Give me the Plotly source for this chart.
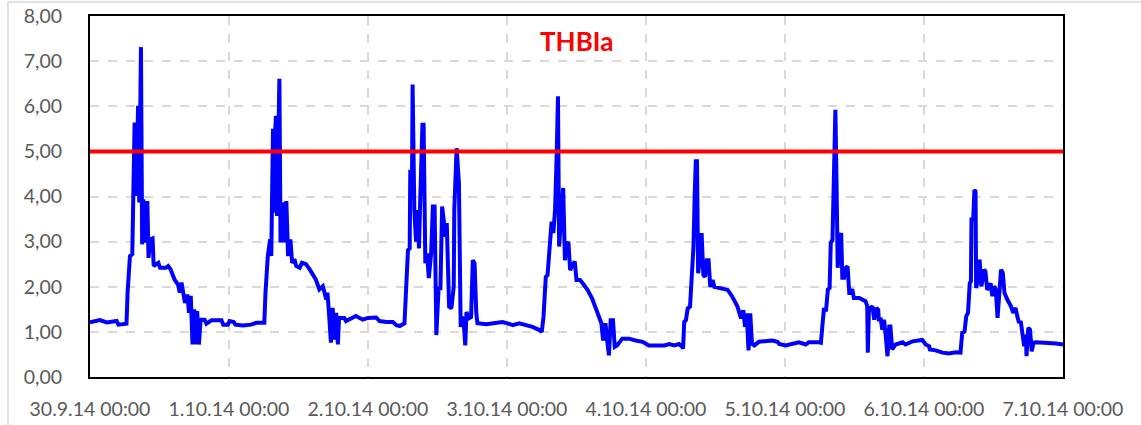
import pandas as pd
import plotly.graph_objects as go

# hours since 30.9.14 00:00
hours = [
    0, 1.7, 2.9, 4.6, 4.9, 6.3, 6.5, 6.9, 7.3, 7.5, 7.7, 8.0, 8.3, 8.5, 8.8, 9.0, 9.2, 9.5, 9.9, 10.1,
    10.4, 10.8, 11.0, 11.8, 12.1, 13.1, 13.5, 13.9, 14.6, 15.2, 15.5, 15.8, 16.2, 16.4, 16.8, 17.1, 17.4,
    17.7, 18.0, 18.3, 18.5, 18.8, 19.1, 19.8, 20.1, 21.0, 22.7, 23.0, 23.8, 24.1, 24.8, 25.1, 26.4, 27.8,
    28.7, 29.3, 29.6, 30.1, 30.3, 30.7, 31.1, 31.3, 31.6, 31.7, 32.0, 32.1, 32.3, 32.7, 32.9, 33.3, 33.6,
    33.9, 34.2, 34.6, 34.9, 35.3, 35.6, 36.2, 36.6, 37.3, 37.9, 38.5, 39.0, 39.6, 40.2, 40.8, 41.0, 41.3,
    41.6, 41.9, 42.2, 42.5, 42.8, 43.0, 43.9, 44.2, 45.9, 47.1, 48.0, 49.4, 50.0, 51.2, 52.3, 52.9, 53.5,
    54.3, 54.5, 54.9, 55.2, 55.3, 55.6, 55.7, 56.0, 56.3, 56.6, 56.8, 57.0, 57.4, 57.6, 57.9, 58.2, 58.5,
    58.9, 59.2, 59.5, 59.8, 60.2, 60.5, 60.8, 61.1, 61.4, 61.6, 62.0, 62.4, 62.8, 62.9, 63.3, 63.7, 64.0,
    64.2, 64.5, 64.8, 65.0, 65.4, 65.8, 66.1, 66.4, 66.7, 66.9, 68.4, 70.1, 71.2, 72.1, 73.0, 74.1, 75.3,
    76.4, 77.6, 78.0, 78.3, 78.7, 79.0, 79.3, 79.7, 80.0, 80.3, 80.6, 80.8, 81.0, 81.3, 81.7, 82.0, 82.3,
    82.6, 82.9, 83.3, 83.7, 84.0, 84.6, 85.1, 85.9, 86.7, 87.4, 87.9, 88.3, 88.6, 89.0, 89.3, 89.6, 89.9,
    90.3, 90.6, 91.0, 91.9, 93.1, 94.2, 95.4, 96.5, 97.1, 98.3, 99.2, 100.0, 100.9, 101.7, 102.2, 102.4,
    102.6, 102.9, 103.2, 103.6, 103.9, 104.2, 104.4, 104.6, 104.8, 105.0, 105.3, 105.6, 105.9, 106.2,
    106.5, 106.8, 107.1, 107.5, 107.8, 108.9, 110.1, 110.9, 111.8, 112.4, 112.8, 113.1, 113.4, 113.7,
    114.0, 114.3, 114.7, 115.5, 116.7, 117.8, 118.7, 119.0, 120.1, 121.3, 122.4, 123.6, 124.1, 125.9,
    126.2, 126.4, 126.7, 127.1, 127.4, 127.7, 127.9, 128.2, 128.3, 128.6, 128.7, 128.9, 129.1, 129.4,
    129.7, 129.9, 130.2, 130.5, 130.8, 131.1, 131.3, 131.6, 131.9, 132.8, 133.6, 133.9, 134.2, 134.3,
    134.5, 134.8, 135.1, 135.4, 135.8, 136.1, 136.2, 136.5, 136.8, 137.1, 137.4, 137.7, 138.0, 138.2,
    138.5, 138.8, 139.1, 140.3, 140.8, 142.0, 143.7, 144.3, 144.9, 145.0, 146.0, 147.2, 148.3, 149.5,
    150.3, 150.6, 151.0, 151.3, 151.6, 151.9, 152.1, 152.2, 152.5, 152.7, 152.9, 153.0, 153.3, 153.6,
    153.9, 154.4, 154.6, 154.9, 155.2, 155.5, 155.8, 156.1, 156.4, 156.7, 157.0, 157.3, 157.6, 157.9,
    158.4, 159.0, 159.4, 159.8, 160.1, 160.4, 160.7, 161.0, 161.3, 161.6, 161.7, 162.0, 162.3, 162.6,
    162.9, 163.3, 165.1, 166.8, 168.0,
]

thbia = [
    1.21, 1.26, 1.21, 1.24, 1.16, 1.18, 1.90, 2.68, 2.72, 4.05, 5.64, 4.01, 6.01, 3.87, 7.31, 2.94, 3.94, 2.98, 3.90, 2.64,
    3.05, 3.07, 2.46, 2.53, 2.42, 2.42, 2.46, 2.39, 2.16, 2.05, 1.87, 2.09, 1.80, 1.64, 1.83, 1.42, 1.80,
    0.72, 1.50, 0.72, 1.46, 0.72, 1.27, 1.27, 1.18, 1.26, 1.26, 1.16, 1.16, 1.24, 1.22, 1.16, 1.14, 1.16,
    1.20, 1.20, 1.18, 1.20, 1.87, 2.68, 3.05, 2.68, 5.50, 3.64, 5.50, 5.79, 3.57, 6.61, 2.98, 3.87, 2.98,
    3.90, 2.68, 3.05, 2.53, 2.61, 2.46, 2.42, 2.53, 2.50, 2.39, 2.24, 2.16, 1.94, 2.01, 1.72, 1.87, 1.35,
    0.76, 1.53, 0.83, 1.42, 0.72, 1.31, 1.31, 1.24, 1.35, 1.27, 1.31, 1.32, 1.24, 1.22, 1.22, 1.15, 1.13,
    1.19, 1.63, 2.81, 2.85, 4.59, 4.44, 6.48, 3.70, 3.00, 3.70, 2.85, 3.85, 5.59, 5.59, 2.52, 2.74, 2.19,
    2.74, 3.78, 3.78, 0.93, 2.00, 1.93, 3.78, 3.48, 3.11, 3.41, 1.56, 1.52, 2.00, 3.70, 5.07, 4.30, 1.11,
    1.33, 1.26, 0.70, 1.44, 1.30, 1.33, 2.59, 2.52, 1.41, 1.19, 1.17, 1.20, 1.22, 1.19, 1.15, 1.19, 1.15,
    1.11, 1.04, 1.00, 1.33, 2.22, 2.26, 2.81, 3.44, 3.19, 3.70, 5.04, 6.22, 2.89, 3.56, 4.19, 2.59, 2.89,
    3.00, 2.37, 2.48, 2.56, 2.15, 2.15, 2.07, 1.93, 1.74, 1.48, 1.33, 1.19, 0.81, 1.19, 0.81, 0.48, 1.26,
    1.26, 0.67, 0.70, 0.85, 0.85, 0.81, 0.78, 0.70, 0.70, 0.68, 0.70, 0.73, 0.70, 0.73, 0.68, 0.63,
    1.22, 1.26, 1.52, 1.56, 2.44, 2.89, 4.00, 4.78, 4.78, 2.30, 2.59, 3.19, 2.26, 2.22,
    2.59, 2.59, 2.00, 2.15, 2.00, 1.96, 1.93, 1.78, 1.56, 1.30, 1.48, 1.11, 1.41, 0.59,
    1.41, 0.74, 0.70, 0.78, 0.80, 0.81, 0.78, 0.73, 0.70, 0.74, 0.77, 0.72, 0.77, 0.77,
    0.76, 1.05, 1.49, 1.49, 1.94, 1.97, 2.97, 3.04, 3.56, 5.04, 5.92, 4.30, 2.42, 3.04,
    3.19, 2.20, 2.20, 2.42, 2.45, 1.86, 1.86, 1.95, 1.75, 1.75, 1.68, 1.68, 1.57, 0.54,
    1.53, 1.53, 1.57, 1.27, 1.53, 1.49, 1.24, 1.31, 1.05, 1.27, 0.90, 0.46, 1.12, 1.12,
    0.61, 0.68, 0.72, 0.77, 0.72, 0.79, 0.82, 0.72, 0.68, 0.61, 0.59, 0.54, 0.52, 0.55,
    0.54, 0.98, 1.01, 1.35, 1.42, 2.08, 2.12, 3.49, 3.49, 4.15, 4.11, 1.97, 2.16, 2.60,
    2.01, 2.38, 2.34, 1.94, 1.97, 2.08, 1.79, 2.01, 1.94, 1.31, 2.01, 2.38, 2.31, 1.86,
    1.71, 1.57, 1.42, 1.53, 1.35, 1.20, 1.24, 0.98, 0.68, 0.94, 0.46, 1.09, 1.05, 0.57,
    0.76, 0.77, 0.76, 0.74, 0.72,
]

limit_value = 5.0
start = "2014-09-30 00:00"
tick_dates = ["2014-09-30", "2014-10-01", "2014-10-02", "2014-10-03",
              "2014-10-04", "2014-10-05", "2014-10-06", "2014-10-07"]
tick_labels = ["30.9.14 00:00", "1.10.14 00:00", "2.10.14 00:00", "3.10.14 00:00",
               "4.10.14 00:00", "5.10.14 00:00", "6.10.14 00:00", "7.10.14 00:00"]
y_ticks = [0, 1, 2, 3, 4, 5, 6, 7, 8]
label_text = "THBIa"

t0 = pd.Timestamp(start)
times = [t0 + pd.Timedelta(hours=h) for h in hours]
x_min = pd.Timestamp(tick_dates[0])
x_max = pd.Timestamp(tick_dates[-1])

fig = go.Figure()
fig.add_trace(go.Scatter(
    x=times, y=thbia, mode="lines",
    line=dict(color="#0000FF", width=4, shape="linear"),
    showlegend=False, hoverinfo="skip",
))
fig.add_trace(go.Scatter(
    x=[x_min, x_max], y=[limit_value, limit_value], mode="lines",
    line=dict(color="#FF0000", width=4),
    showlegend=False, hoverinfo="skip",
))

fig.add_annotation(
    x=t0 + pd.Timedelta(hours=84), y=7.45, xref="x", yref="y",
    text="<b>" + label_text + "</b>", showarrow=False,
    font=dict(family="Lato, Liberation Sans, sans-serif", size=26, color="#FF0000"),
)

# outer light-grey chart border fragments
fig.add_shape(type="line", xref="paper", yref="paper",
              x0=-82/973, x1=1.09, y0=1+14/361, y1=1+14/361,
              line=dict(color="#D9D9D9", width=1.5))
fig.add_shape(type="line", xref="paper", yref="paper",
              x0=-82/973, x1=-82/973, y0=-48/361, y1=1+14/361,
              line=dict(color="#D9D9D9", width=1.5))

font_ticks = dict(family="Lato, Liberation Sans, sans-serif", size=19.5, color="#595959")

fig.update_layout(
    width=1141, height=425,
    margin=dict(l=90, r=78, t=16, b=48, autoexpand=False),
    paper_bgcolor="white", plot_bgcolor="white",
    separators=",.",
    font=font_ticks,
)
fig.update_xaxes(
    range=[x_min, x_max], automargin=False,
    tickvals=[pd.Timestamp(d) for d in tick_dates], ticktext=tick_labels,
    showgrid=True, gridcolor="#D9D9D9", griddash="dash", gridwidth=1.5,
    showline=True, linecolor="black", linewidth=2, mirror=True,
    ticks="", tickfont=font_ticks, ticklabelstandoff=14,
    zeroline=False,
)
fig.update_yaxes(
    range=[0, 8], tickvals=y_ticks, tickformat=".2f", automargin=False,
    showgrid=True, gridcolor="#D9D9D9", griddash="dash", gridwidth=1.5,
    showline=True, linecolor="black", linewidth=2, mirror=True,
    ticks="", tickfont=font_ticks, ticklabelstandoff=22,
    zeroline=False,
)

fig.write_html(
    "out.html",
    config={"displayModeBar": False},
    post_script="document.body.style.margin='0';document.body.style.overflow='hidden';",
)
